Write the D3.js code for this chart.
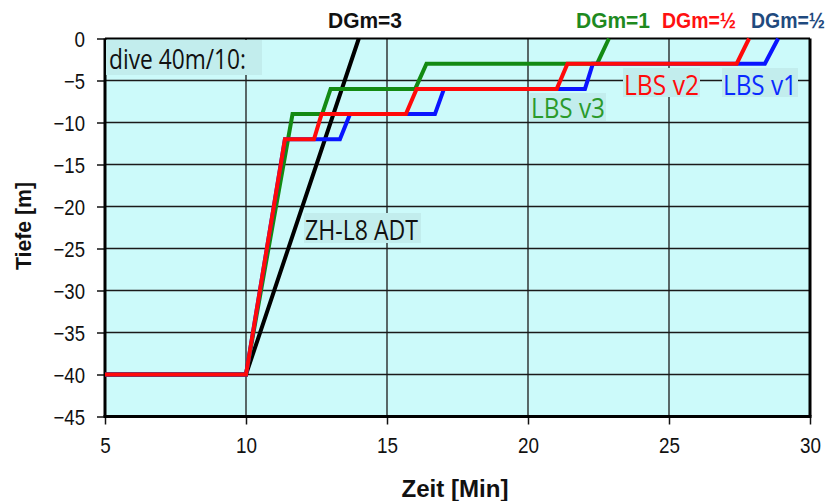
<!DOCTYPE html>
<html>
<head>
<meta charset="utf-8">
<script src="https://cdn.jsdelivr.net/npm/d3@7"></script>
<style>
  body { margin: 0; background: #fff; }
  svg { display: block; }
</style>
</head>
<body>
<div id="chart"></div>
<script>
// dive profile: time [min] vs depth [m]
const xTicks = [5, 10, 15, 20, 25, 30];
const yTicks = [0, -5, -10, -15, -20, -25, -30, -35, -40, -45];

const adtTime  = [5, 10, 14];
const adtDepth = [-40, -40, 0];

const v3Time  = [5, 10, 11.65, 12.7, 13.0, 16.0, 16.4, 22.45, 22.87];
const v3Depth = [-40, -40, -9, -9, -6, -6, -3, -3, 0];

const v2Time  = [5, 10, 11.38, 12.41, 12.68, 15.67, 16.05, 21.02, 21.4, 27.4, 27.84];
const v2Depth = [-40, -40, -12, -12, -9, -9, -6, -6, -3, -3, 0];

const v1Time  = [5, 10, 11.38, 13.33, 13.69, 16.7, 17.02, 22.02, 22.3, 28.4, 28.87];
const v1Depth = [-40, -40, -12, -12, -9, -9, -6, -6, -3, -3, 0];

const width = 834, height = 501;
const margin = {top: 38.5, right: 24, bottom: 84.5, left: 105};
const w = width - margin.left - margin.right;
const h = height - margin.top - margin.bottom;

const svg = d3.select("#chart").append("svg")
    .attr("width", width)
    .attr("height", height);

const g = svg.append("g")
    .attr("transform", `translate(${margin.left},${margin.top})`);

const x = d3.scaleLinear().domain([5, 30]).range([0, w]);
const y = d3.scaleLinear().domain([0, -45]).range([0, h]);

// background
g.append("rect")
    .attr("width", w).attr("height", h)
    .attr("fill", "#ccfafa");

// grid
g.append("g")
    .selectAll("line").data(xTicks.slice(1, -1)).join("line")
    .attr("x1", d => x(d)).attr("x2", d => x(d))
    .attr("y1", 0).attr("y2", h)
    .attr("stroke", "#1a1a1a").attr("stroke-width", 1.3);
g.append("g")
    .selectAll("line").data(yTicks.slice(1, -1)).join("line")
    .attr("x1", 0).attr("x2", w)
    .attr("y1", d => y(d)).attr("y2", d => y(d))
    .attr("stroke", "#1a1a1a").attr("stroke-width", 1.3);

// axes
const xAxis = d3.axisBottom(x).tickValues(xTicks).tickSize(8).tickPadding(13).tickFormat(d3.format("d"));
const yAxis = d3.axisLeft(y).tickValues(yTicks).tickSize(8).tickPadding(12).tickFormat(d3.format("d"));

const gx = g.append("g").attr("transform", `translate(0,${h})`).call(xAxis);
const gy = g.append("g").call(yAxis);
[gx, gy].forEach(a => {
  a.select(".domain").remove();
  a.selectAll("line").attr("stroke", "#111").attr("stroke-width", 1.5);
  a.selectAll("text")
    .attr("font-family", "Liberation Sans, Arial, sans-serif")
    .attr("font-size", 22)
    .attr("fill", "#111")
    .attr("textLength", d => String(d).length * 10.5)
    .attr("lengthAdjust", "spacingAndGlyphs");
});
gy.selectAll("text").attr("dy", "0.36em");

// frame
g.append("line").attr("x1", 0).attr("x2", w).attr("y1", 0).attr("y2", 0)
    .attr("stroke", "#000").attr("stroke-width", 2);
g.append("line").attr("x1", 0).attr("x2", 0).attr("y1", 0).attr("y2", h)
    .attr("stroke", "#000").attr("stroke-width", 3);
g.append("line").attr("x1", w).attr("x2", w).attr("y1", 0).attr("y2", h)
    .attr("stroke", "#000").attr("stroke-width", 3);
g.append("line").attr("x1", -1.5).attr("x2", w + 1.5).attr("y1", h).attr("y2", h)
    .attr("stroke", "#000").attr("stroke-width", 3);

// profiles
const line = d3.line().x(d => x(d[0])).y(d => y(d[1]));
const series = [
  {t: adtTime, d: adtDepth, color: "#000000"},
  {t: v3Time,  d: v3Depth,  color: "#138a13"},
  {t: v1Time,  d: v1Depth,  color: "#0a14ff"},
  {t: v2Time,  d: v2Depth,  color: "#ff0a0a"}
];
g.selectAll(".profile").data(series).join("path")
    .attr("class", "profile")
    .attr("d", s => line(s.t.map((t, i) => [t, s.d[i]])))
    .attr("fill", "none")
    .attr("stroke", s => s.color)
    .attr("stroke-width", 4)
    .attr("stroke-linejoin", "miter");

// boxed labels inside plot
function boxLabel(txt, px, py, color, len, box) {
  const lg = svg.append("g");
  lg.append("rect").attr("fill", "#c2eded")
      .attr("x", box[0]).attr("y", box[1]).attr("width", box[2]).attr("height", box[3]);
  lg.append("text")
      .attr("x", px).attr("y", py)
      .attr("font-family", "Open Sans, Noto Sans, sans-serif")
      .attr("font-size", 27)
      .attr("fill", color)
      .attr("textLength", len)
      .attr("lengthAdjust", "spacingAndGlyphs")
      .text(txt);
}
boxLabel("dive 40m/10:", 109, 69, "#111", 137, [106, 40, 156, 35]);
boxLabel("ZH-L8 ADT", 305, 240, "#111", 113, [304, 213, 117, 30]);
boxLabel("LBS v3", 531, 118, "#2a9a2a", 74, [530, 93, 76, 28]);
boxLabel("LBS v2", 624, 95, "#ff0a0a", 75, [623, 68, 77, 29]);
boxLabel("LBS v1", 723, 95, "#0a2aff", 74, [722, 68, 76, 29]);

// DGm labels above the plot
const dgm = [
  {txt: "DGm=3", x: 365, color: "#111"},
  {txt: "DGm=1", x: 613, color: "#1f8a1f"},
  {txt: "DGm=\u00bd", x: 699, color: "#ff1010"},
  {txt: "DGm=\u00bd", x: 788, color: "#1f4a7e"}
];
svg.selectAll(".dgm").data(dgm).join("text")
    .attr("class", "dgm")
    .attr("x", d => d.x).attr("y", 28)
    .attr("text-anchor", "middle")
    .attr("font-family", "Liberation Sans, Arial, sans-serif")
    .attr("font-weight", "bold")
    .attr("font-size", 22)
    .attr("fill", d => d.color)
    .attr("textLength", d => d.txt.length === 5 ? 74 : 76)
    .attr("lengthAdjust", "spacingAndGlyphs")
    .text(d => d.txt);

// axis titles
svg.append("text")
    .attr("x", 455).attr("y", 497)
    .attr("text-anchor", "middle")
    .attr("font-family", "Liberation Sans, Arial, sans-serif")
    .attr("font-weight", "bold")
    .attr("font-size", 23)
    .attr("fill", "#111")
    .attr("textLength", 107)
    .attr("lengthAdjust", "spacingAndGlyphs")
    .text("Zeit [Min]");
svg.append("text")
    .attr("transform", "translate(31,226) rotate(-90)")
    .attr("text-anchor", "middle")
    .attr("font-family", "Liberation Sans, Arial, sans-serif")
    .attr("font-weight", "bold")
    .attr("font-size", 22)
    .attr("fill", "#111")
    .attr("textLength", 88)
    .attr("lengthAdjust", "spacingAndGlyphs")
    .text("Tiefe [m]");
</script>
</body>
</html>
